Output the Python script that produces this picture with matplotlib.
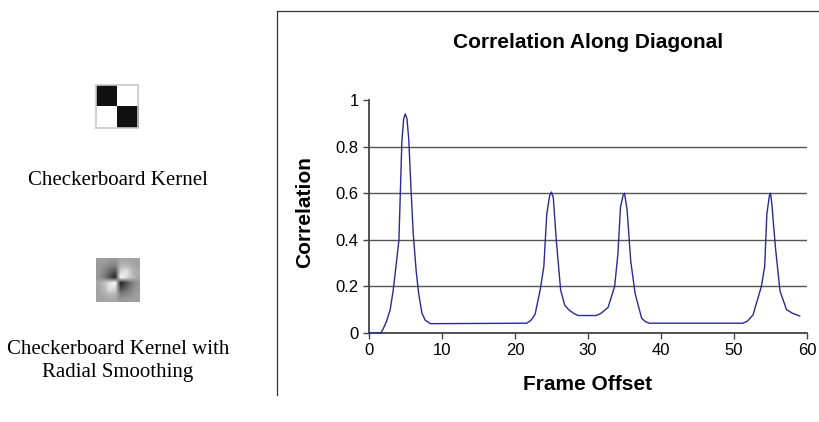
import numpy as np
import matplotlib
matplotlib.use('Agg')
import matplotlib.pyplot as plt
from matplotlib.lines import Line2D

plt.rcParams['font.family'] = ['Liberation Sans', 'DejaVu Sans']

# correlation along the diagonal
frame = [0, 1.6, 1.9, 2.4, 2.9, 3.3, 3.6, 4.1, 4.5, 4.75, 4.97, 5.2, 5.45, 5.75, 6.05, 6.45, 6.8, 7.25, 7.7, 8.4,
         21.6, 22.2, 22.75, 23.45, 23.95, 24.35, 24.75, 25.0, 25.25, 25.65, 26.25, 26.8, 27.35, 28.0, 28.65,
         31.15, 31.8, 32.75, 33.65, 34.1, 34.45, 34.8, 35.0, 35.35, 35.85, 36.45, 37.35, 37.9, 38.45,
         51.2, 51.8, 52.6, 53.75, 54.2, 54.5, 54.85, 55.0, 55.2, 55.4, 55.7, 56.3, 57.2, 58.0, 59.0]
corr = [0, 0, 0.015, 0.05, 0.1, 0.18, 0.26, 0.4, 0.82, 0.92, 0.94, 0.92, 0.83, 0.62, 0.43, 0.27, 0.17, 0.085, 0.055, 0.04,
        0.042, 0.055, 0.08, 0.185, 0.285, 0.51, 0.59, 0.605, 0.58, 0.4, 0.185, 0.12, 0.1, 0.085, 0.075,
        0.075, 0.085, 0.11, 0.2, 0.34, 0.54, 0.59, 0.6, 0.53, 0.31, 0.17, 0.063, 0.048, 0.042,
        0.042, 0.05, 0.077, 0.2, 0.285, 0.51, 0.59, 0.6, 0.55, 0.47, 0.36, 0.18, 0.1, 0.085, 0.073]

xticks = [0, 10, 20, 30, 40, 50, 60]
yticks = [0, 0.2, 0.4, 0.6, 0.8, 1]

# kernels (grey levels, 0 = black, 1 = white)
checker = [[0.07, 1.0],
           [1.0, 0.07]]
smoothed = [[.62, .62, .60, .58, .66, .66, .64, .64],
            [.60, .58, .52, .48, .72, .74, .68, .64],
            [.60, .52, .40, .30, .85, .90, .74, .66],
            [.58, .48, .30, .15, .98, .88, .76, .66],
            [.66, .74, .88, .98, .12, .30, .48, .58],
            [.64, .72, .90, .85, .28, .40, .52, .60],
            [.64, .68, .74, .72, .48, .52, .58, .62],
            [.64, .64, .66, .66, .58, .60, .62, .62]]

W, H = 820, 422
fig = plt.figure(figsize=(W / 100, H / 100), dpi=100)

# left panel: the two kernels with captions
ax_k1 = fig.add_axes([96 / W, 1 - 128 / H, 42 / W, 43 / H])
ax_k1.imshow(checker, cmap='gray', vmin=0, vmax=1, interpolation='nearest', aspect='auto')
ax_k1.set_xticks([])
ax_k1.set_yticks([])
for s in ax_k1.spines.values():
    s.set_color('#c8c8c8')
    s.set_linewidth(1.2)
ax_k2 = fig.add_axes([96.5 / W, 1 - 302 / H, 43.5 / W, 44 / H])
ax_k2.imshow(smoothed, cmap='gray', vmin=0, vmax=1, interpolation='bilinear', aspect='auto')
ax_k2.axis('off')

serif = ['Liberation Serif', 'DejaVu Serif']
fig.text(118 / W, 1 - 185 / H, 'Checkerboard Kernel', family=serif, fontsize=15,
         ha='center', va='baseline')
fig.text(118 / W, 1 - 377 / H, 'Checkerboard Kernel with\nRadial Smoothing', family=serif,
         fontsize=15, ha='center', va='baseline', linespacing=1.27, multialignment='center')

# frame around the chart
fig.add_artist(Line2D([277 / W, 1], [1 - 10.5 / H, 1 - 10.5 / H], color='#333333', lw=0.9))
fig.add_artist(Line2D([277 / W, 277 / W], [1 - 10.5 / H, 1 - 395 / H], color='#333333', lw=0.9))

# chart
ax = fig.add_axes([369 / W, 1 - 333 / H, 438 / W, 233 / H])
ax.plot(frame, corr, color='#2b2a92', lw=1.0, zorder=5, clip_on=False)
ax.set_xlim(0, 60)
ax.set_ylim(0, 1)
ax.set_xticks(xticks)
ax.set_yticks(yticks)
ax.set_yticklabels(['%g' % v for v in yticks])
ax.tick_params(direction='out', length=4.5, width=1, color='#444444', labelsize=12, pad=3)
ax.grid(axis='y', color='#555555', lw=1)
ax.get_ygridlines()[-1].set_visible(False)
ax.set_axisbelow(True)
for s in ['top', 'right']:
    ax.spines[s].set_visible(False)
for s in ['left', 'bottom']:
    ax.spines[s].set_color('#444444')
    ax.spines[s].set_linewidth(1.3)

fig.text(588 / W, 1 - 48 / H, 'Correlation Along Diagonal', fontsize=15, fontweight='bold',
         ha='center', va='baseline')
ax.set_xlabel('Frame Offset', fontsize=15, fontweight='bold', va='baseline')
ax.xaxis.set_label_coords(0.5, (333 - 390) / 233)
ax.set_ylabel('Correlation', fontsize=15, fontweight='bold', va='center')
ax.yaxis.set_label_coords((305 - 369) / 438, (333 - 212) / 233)

fig.savefig('out.png', dpi=100)
